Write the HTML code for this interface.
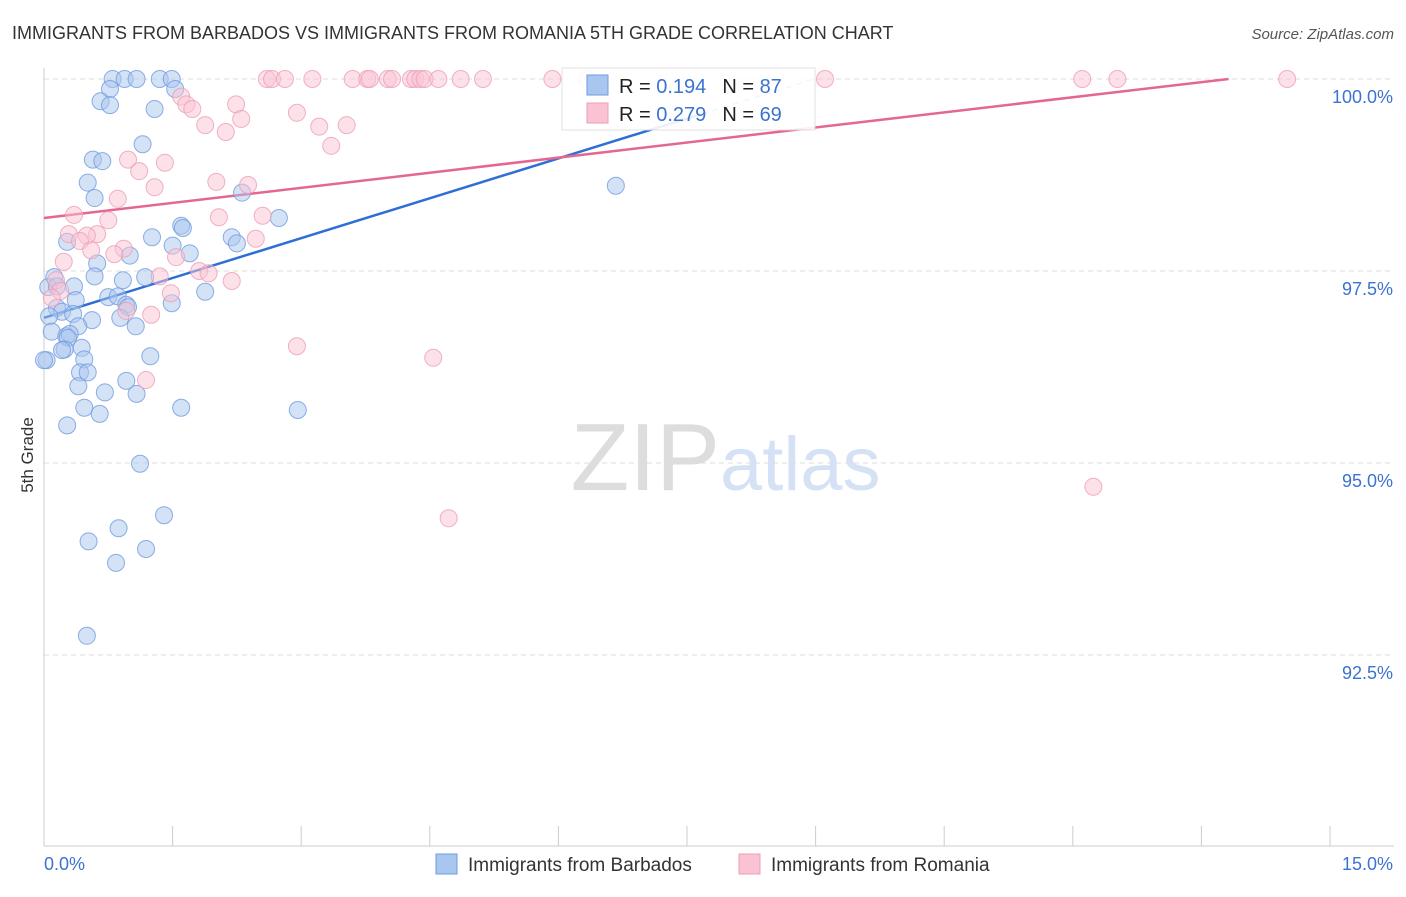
<!DOCTYPE html>
<html><head><meta charset="utf-8"><style>
body{margin:0;background:#fff;font-family:"Liberation Sans",sans-serif}
svg text{font-family:"Liberation Sans",sans-serif}
</style></head><body>
<svg id="chart" width="1406" height="892" viewBox="0 0 1406 892" xmlns="http://www.w3.org/2000/svg">
<text x="12" y="39" font-size="18" fill="#333">IMMIGRANTS FROM BARBADOS VS IMMIGRANTS FROM ROMANIA 5TH GRADE CORRELATION CHART</text>
<text x="1394" y="39" font-size="15" fill="#555" font-style="italic" text-anchor="end">Source: ZipAtlas.com</text>
<text x="33" y="455" font-size="17" fill="#333" text-anchor="middle" transform="rotate(-90 33 455)">5th Grade</text>
<text x="720" y="490" font-size="96" fill="#ddd" text-anchor="end" font-family="Liberation Serif">ZIP</text>
<text x="720" y="490" font-size="76" fill="#d5e2f5">atlas</text>
<g id="grid"></g><g id="axes"></g><g id="lines"></g><g id="pts"></g>
<g>
<rect x="562" y="68" width="253" height="62" fill="#fff" stroke="#ddd" opacity="0.9"/>
<rect x="587" y="75" width="21" height="20" fill="#a9c6ee" stroke="#6f9be0"/>
<rect x="587" y="103" width="21" height="20" fill="#f9c3d3" stroke="#ee9db5"/>
<text x="619" y="93" font-size="20" fill="#222">R = <tspan fill="#3b73d1">0.194</tspan><tspan dx="16">N = </tspan><tspan fill="#3b73d1">87</tspan></text>
<text x="619" y="121" font-size="20" fill="#222">R = <tspan fill="#3b73d1">0.279</tspan><tspan dx="16">N = </tspan><tspan fill="#3b73d1">69</tspan></text>
</g>
<g>
<rect x="436" y="854" width="21" height="20" fill="#a9c6ee" stroke="#6f9be0"/>
<text x="468" y="871" font-size="19" fill="#333">Immigrants from Barbados</text>
<rect x="739" y="854" width="21" height="20" fill="#f9c3d3" stroke="#ee9db5"/>
<text x="771" y="871" font-size="19" fill="#333">Immigrants from Romania</text>
</g>
</svg>
<script>
const blueX=[0.80,0.94,1.08,1.35,1.49,0.77,1.53,0.66,0.77,1.29,1.15,0.57,0.68,0.51,0.59,2.31,6.67,2.74,1.60,1.62,1.26,0.27,2.19,2.25,1.50,1.70,1.00,0.62,0.12,0.59,0.92,1.18,0.35,0.05,0.15,1.88,0.75,0.86,0.37,1.49,0.15,0.96,0.98,0.21,0.34,0.06,0.89,0.56,1.07,0.40,0.09,0.26,0.30,0.28,0.24,0.44,0.21,0.03,1.24,0.47,0.42,0.51,0.96,0.40,0.71,1.08,0.47,1.60,2.96,0.65,0.27,1.12,1.40,0.87,0.52,1.19,0.84,0.50,0.00];
const blueY=[100,100,100,100,100,99.87,99.87,99.71,99.66,99.61,99.15,98.95,98.93,98.65,98.45,98.52,98.61,98.19,98.09,98.06,97.94,97.88,97.94,97.86,97.83,97.73,97.70,97.60,97.42,97.43,97.38,97.42,97.30,97.29,97.30,97.23,97.16,97.17,97.12,97.08,97.02,97.06,97.03,96.97,96.94,96.91,96.89,96.86,96.78,96.78,96.71,96.65,96.68,96.63,96.48,96.50,96.47,96.34,96.39,96.35,96.18,96.18,96.07,96.00,95.92,95.90,95.72,95.72,95.69,95.64,95.49,94.99,94.32,94.15,93.98,93.88,93.70,92.75,96.34];
const pinkX=[2.60,2.66,2.81,3.13,3.60,3.77,3.80,4.01,4.06,4.28,4.33,4.39,4.44,4.60,4.86,5.12,5.93,6.33,9.11,12.11,12.52,14.50,1.60,1.66,1.73,1.88,2.24,2.30,2.12,2.95,3.21,3.53,3.35,0.98,1.41,1.11,1.29,2.01,2.38,0.86,0.35,0.75,2.04,2.55,0.29,0.62,0.50,2.47,0.42,0.93,0.55,0.82,1.54,0.23,1.81,1.92,1.35,2.19,0.14,0.19,1.48,0.09,0.96,1.25,2.95,4.54,1.19,12.24,4.72];
const pinkY=[100,100,100,100,100,100,100,100,100,100,100,100,100,100,100,100,100,100,100,100,100,100,99.77,99.67,99.61,99.40,99.67,99.48,99.31,99.56,99.38,99.40,99.13,98.95,98.91,98.80,98.59,98.66,98.62,98.44,98.23,98.16,98.20,98.22,97.98,97.98,97.96,97.92,97.89,97.79,97.77,97.72,97.68,97.62,97.50,97.47,97.43,97.37,97.38,97.24,97.21,97.15,96.98,96.93,96.52,96.37,96.08,94.69,94.28];
const yTicks=[100,97.5,95,92.5];
const yTickLabels=["100.0%","97.5%","95.0%","92.5%"];
const xTicks=[0,1.5,3,4.5,6,7.5,9,10.5,12,13.5,15];
const blueTrend=[96.89,0.346];
const pinkTrend=[98.19,0.131];
const X0=44,X1=1330,Y100=79,PXPERPCT=76.8;
const sx=v=>X0+(X1-X0)*v/15;
const sy=v=>Y100+(100-v)*PXPERPCT;
const NS="http://www.w3.org/2000/svg";
function mk(tag,attrs,parent){const e=document.createElementNS(NS,tag);for(const k in attrs)e.setAttribute(k,attrs[k]);document.getElementById(parent).appendChild(e);return e;}
yTicks.forEach((t,i)=>{
  const g=mk('line',{x1:X0,x2:1394,y1:sy(t),y2:sy(t),stroke:'#ddd','stroke-dasharray':'5,4'},'grid');
  
  
  const l=mk('text',{x:1393,y:sy(t)+24,'font-size':18,fill:'#3b73d1','text-anchor':'end'},'axes');
  l.textContent=yTickLabels[i];
  
  
});
const ax=mk('line',{x1:X0,x2:X0,y1:68,y2:846,stroke:'#ccc'},'axes');


const bx=mk('line',{x1:X0,x2:1394,y1:846,y2:846,stroke:'#ccc'},'axes');


xTicks.forEach(t=>{
  const k=mk('line',{x1:sx(t),x2:sx(t),y1:826,y2:846,stroke:'#ccc'},'axes');
  
  
});
const xl=mk('text',{x:44,y:870,'font-size':18,fill:'#3b73d1'},'axes');xl.textContent='0.0%';


const xr=mk('text',{x:1393,y:870,'font-size':18,fill:'#3b73d1','text-anchor':'end'},'axes');xr.textContent='15.0%';


function pts(xs,ys,fill,stroke,name){xs.forEach((x,i)=>{
  const c=mk('circle',{cx:sx(x),cy:sy(ys[i]),r:8.5,fill:fill,'fill-opacity':0.5,stroke:stroke,'stroke-opacity':0.8,'stroke-width':1},'pts');
  
  
});}
pts(blueX,blueY,'#a9c6ee','#6f9be0','point-barbados');
pts(pinkX,pinkY,'#f9c3d3','#ee9db5','point-romania');
function trend(tr,xmaxData,color,name){
  const xEnd=Math.min(15,(100-tr[0])/tr[1]);
  const xs=Math.min(xmaxData,xEnd);
  const a=mk('line',{x1:sx(0),y1:sy(tr[0]),x2:sx(xs),y2:sy(tr[0]+tr[1]*xs),stroke:color,'stroke-width':2.5},'lines');
  
  
  if(xEnd>xs){const b=mk('line',{x1:sx(xs),y1:sy(tr[0]+tr[1]*xs),x2:sx(xEnd),y2:sy(tr[0]+tr[1]*xEnd),stroke:color,'stroke-width':1.5,'stroke-dasharray':'6,5','stroke-opacity':0.6},'lines');
  
  }
}
trend(blueTrend,Math.max(...blueX)+1,'#2e6fd6','trend-barbados');
trend(pinkTrend,Math.max(...pinkX),'#e46791','trend-romania');
</script>
</body></html>
